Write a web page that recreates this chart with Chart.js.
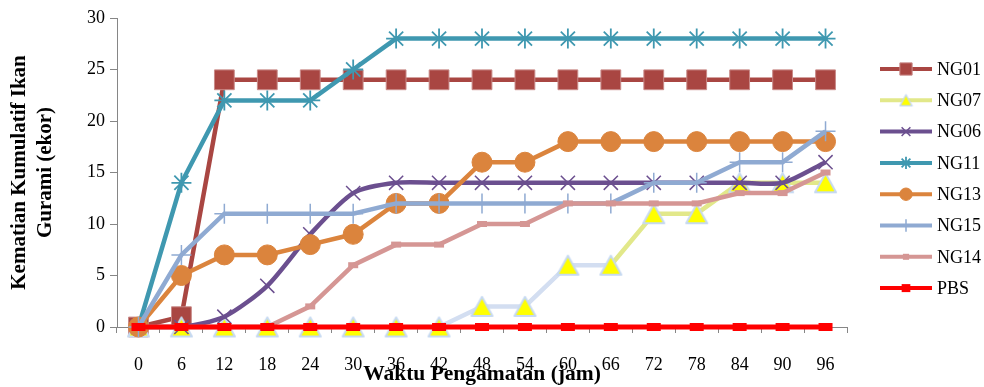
<!DOCTYPE html>
<html lang="id">
<head>
    <meta charset="UTF-8">
    <title>Kematian Kumulatif Ikan Gurami</title>
    <script src="https://cdn.jsdelivr.net/npm/chart.js@4.4.1/dist/chart.umd.min.js"></script>
    <style>
        body { margin: 0; background: #fff; }
    </style>
</head>
<body>
    <canvas id="chart" width="984" height="387"></canvas>

    <script>
        // hours of observation
        const labels = ['0', '6', '12', '18', '24', '30', '36', '42', '48', '54', '60', '66', '72', '78', '84', '90', '96'];

        const ng01 = [0, 1, 24, 24, 24, 24, 24, 24, 24, 24, 24, 24, 24, 24, 24, 24, 24];
        const ng07 = [0, 0, 0, 0, 0, 0, 0, 0, 2, 2, 6, 6, 11, 11, 14, 14, 14];
        const ng06 = [0, 0, 1, 4, 9, 13, 14, 14, 14, 14, 14, 14, 14, 14, 14, 14, 16];
        const ng11 = [0, 14, 22, 22, 22, 25, 28, 28, 28, 28, 28, 28, 28, 28, 28, 28, 28];
        const ng13 = [0, 5, 7, 7, 8, 9, 12, 12, 16, 16, 18, 18, 18, 18, 18, 18, 18];
        const ng15 = [0, 7, 11, 11, 11, 11, 12, 12, 12, 12, 12, 12, 14, 14, 16, 16, 19];
        const ng14 = [0, 0, 0, 0, 2, 6, 8, 8, 10, 10, 12, 12, 12, 12, 13, 13, 15];
        const pbs = [0, 0, 0, 0, 0, 0, 0, 0, 0, 0, 0, 0, 0, 0, 0, 0, 0];

        const SERIF = "'Liberation Serif', 'Times New Roman', Times, serif";
        const AXIS_GREY = '#868686';

        const ng07Blue = '#d3def1';
        const ng07Yellow = '#e2e88a';

        // Excel centres its triangle marker on the bounding box, so build it as an image
        function makeTriangle(w, h, lw) {
            const c = document.createElement('canvas');
            c.width = w;
            c.height = h;
            const g = c.getContext('2d');
            g.beginPath();
            g.moveTo(w / 2, lw);
            g.lineTo(w - lw, h - lw);
            g.lineTo(lw, h - lw);
            g.closePath();
            g.fillStyle = '#ffff00';
            g.fill();
            g.strokeStyle = '#c6d9f1';
            g.lineWidth = lw;
            g.lineJoin = 'round';
            g.stroke();
            return c;
        }
        const triBig = makeTriangle(25, 23, 2);
        const triSmall = makeTriangle(15, 14, 1.5);

        const datasets = [
            { label: 'NG01', data: ng01, borderColor: '#a94642', backgroundColor: '#a94642',
              pointBorderColor: '#c98a88', pointStyle: 'rect', pointRadius: 14, pointBorderWidth: 1, borderWidth: 4.5 },
            { label: 'NG07', data: ng07, borderColor: ng07Blue, backgroundColor: '#ffff00',
              pointStyle: triBig, legendPoint: triSmall, pointRadius: 12, borderWidth: 4.5,
              legendLine: ng07Yellow,
              segment: { borderColor: c => c.p0DataIndex >= 11 ? ng07Yellow : ng07Blue } },
            { label: 'NG06', data: ng06, borderColor: '#6b4f8f', backgroundColor: '#6b4f8f',
              pointStyle: 'crossRot', pointRadius: 10, pointBorderWidth: 1.5, borderWidth: 4.5, tension: 0.25 },
            { label: 'NG11', data: ng11, borderColor: '#3f98b0', backgroundColor: '#3f98b0',
              pointStyle: 'star', pointRadius: 10, pointBorderWidth: 1.8, borderWidth: 4.5 },
            { label: 'NG13', data: ng13, borderColor: '#db843d', backgroundColor: '#db843d',
              pointStyle: 'circle', pointRadius: 10, pointBorderWidth: 1, borderWidth: 4.5 },
            { label: 'NG15', data: ng15, borderColor: '#8faad2', backgroundColor: '#8faad2',
              pointStyle: 'cross', pointRadius: 10, pointBorderWidth: 1.5, borderWidth: 4.5 },
            { label: 'NG14', data: ng14, borderColor: '#d59694', backgroundColor: '#d59694',
              pointStyle: 'line', pointRadius: 5, pointBorderWidth: 6, borderWidth: 4.5 },
            { label: 'PBS', data: pbs, borderColor: '#ff0000', backgroundColor: '#ff0000',
              pointStyle: 'line', pointRadius: 7, pointBorderWidth: 8, borderWidth: 5 }
        ];
        // later series sit on top, like the original
        datasets.forEach((d, i) => {
            d.order = datasets.length - 1 - i;
            d.fill = false;
            d.clip = false;
            d.pointHoverRadius = d.pointRadius;
        });

        // line + marker legend on the right
        const sideLegend = {
            id: 'sideLegend',
            afterDraw(chart) {
                const ctx = chart.ctx;
                chart.data.datasets.forEach((ds, i) => {
                    const y = 69 + i * 31.3;
                    ctx.save();
                    ctx.strokeStyle = ds.legendLine || ds.borderColor;
                    ctx.lineWidth = 4;
                    ctx.beginPath();
                    ctx.moveTo(880, y);
                    ctx.lineTo(932, y);
                    ctx.stroke();
                    ctx.fillStyle = ds.backgroundColor;
                    ctx.strokeStyle = ds.pointBorderColor || ds.borderColor;
                    ctx.lineWidth = ds.pointBorderWidth || 1;
                    Chart.helpers.drawPoint(ctx, {
                        pointStyle: ds.legendPoint || ds.pointStyle,
                        radius: ds.pointRadius * 0.62,
                        borderWidth: ds.pointBorderWidth || 1,
                        rotation: 0
                    }, 906, y);
                    ctx.fillStyle = '#000';
                    ctx.font = '18px ' + SERIF;
                    ctx.textBaseline = 'middle';
                    ctx.fillText(ds.label, 937, y + 1);
                    ctx.restore();
                });
            }
        };

        new Chart(document.getElementById('chart'), {
            type: 'line',
            data: { labels: labels, datasets: datasets },
            options: {
                responsive: false,
                animation: false,
                devicePixelRatio: 1,
                layout: { padding: { top: 18, right: 137, left: 0, bottom: 0 } },
                plugins: {
                    legend: { display: false },
                    tooltip: { enabled: false }
                },
                elements: { point: { hitRadius: 0 } },
                scales: {
                    x: {
                        offset: true,
                        grid: { offset: true, drawOnChartArea: false, tickLength: 6, color: AXIS_GREY },
                        border: { color: AXIS_GREY },
                        ticks: { color: '#000', font: { family: SERIF, size: 18 }, padding: 21, maxRotation: 0 },
                        title: {
                            display: true,
                            text: 'Waktu Pengamatan (jam)',
                            color: '#000',
                            font: { family: SERIF, size: 21.5, weight: 'bold' },
                            padding: { top: 0, bottom: 0 }
                        },
                        afterFit: s => { s.height = 60; }
                    },
                    y: {
                        min: 0,
                        max: 30,
                        ticks: { stepSize: 5, color: '#000', font: { family: SERIF, size: 18 }, padding: 5 },
                        grid: { drawOnChartArea: false, tickLength: 7, color: AXIS_GREY },
                        border: { color: AXIS_GREY },
                        title: {
                            display: true,
                            text: ['Kematian Kumulatif Ikan', 'Gurami (ekor)'],
                            color: '#000',
                            font: { family: SERIF, size: 21, weight: 'bold', lineHeight: 1.22 },
                            padding: { top: 7, bottom: 0 }
                        },
                        afterFit: s => { s.width = 117; }
                    }
                }
            },
            plugins: [sideLegend]
        });
    </script>
</body>
</html>
